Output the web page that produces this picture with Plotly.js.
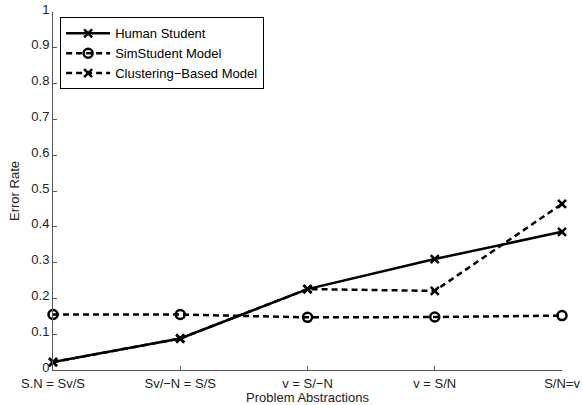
<!DOCTYPE html>
<html>
<head>
<meta charset="utf-8">
<script src="https://cdn.plot.ly/plotly-3.0.1.min.js"></script>
<style>html,body{margin:0;padding:0;background:#fff}#chart{width:582px;height:405px}</style>
</head>
<body>
<div id="chart"></div>
<script>
const categories = ["S.N = Sv/S", "Sv/\u2212N = S/S", "v = S/\u2212N", "v = S/N", "S/N=v"];
const humanStudent = [0.022, 0.088, 0.226, 0.310, 0.386];
const simStudent = [0.155, 0.155, 0.147, 0.148, 0.152];
const clusteringModel = [0.022, 0.088, 0.226, 0.221, 0.464];
const yTicks = [0, 0.1, 0.2, 0.3, 0.4, 0.5, 0.6, 0.7, 0.8, 0.9, 1];
const yTickText = ["0", "0.1", "0.2", "0.3", "0.4", "0.5", "0.6", "0.7", "0.8", "0.9", "1"];

const FONT = "Liberation Sans, Arial, Helvetica, sans-serif";
const dash = "6px,4px";

const traces = [
  {
    x: categories, y: humanStudent, name: "Human Student", type: "scatter", mode: "lines+markers",
    line: {color: "#000", width: 2.5},
    marker: {symbol: "x-thin-open", size: 8, color: "#000", line: {color: "#000", width: 2.5}},
    cliponaxis: false
  },
  {
    x: categories, y: simStudent, name: "SimStudent Model", type: "scatter", mode: "lines+markers",
    line: {color: "#000", width: 2.5, dash: dash},
    marker: {symbol: "circle-open", size: 9, color: "#000", line: {color: "#000", width: 2.5}},
    cliponaxis: false
  },
  {
    x: categories, y: clusteringModel, name: "Clustering\u2212Based Model", type: "scatter", mode: "lines+markers",
    line: {color: "#000", width: 2.5, dash: dash},
    marker: {symbol: "x-thin-open", size: 8, color: "#000", line: {color: "#000", width: 2.5}},
    cliponaxis: false
  }
];

const layout = {
  width: 582, height: 405,
  margin: {l: 53, r: 20, t: 12, b: 35},
  paper_bgcolor: "#fff", plot_bgcolor: "#fff",
  font: {family: FONT, size: 13, color: "#222"},
  showlegend: true,
  legend: {
    x: 0.014, y: 0.985, xanchor: "left", yanchor: "top",
    bordercolor: "#000", borderwidth: 1, bgcolor: "#fff",
    font: {family: FONT, size: 13, color: "#000"},
    traceorder: "normal", itemwidth: 44
  },
  xaxis: {
    type: "category", range: [0, 4],
    showline: true, linecolor: "#555", linewidth: 1,
    ticks: "inside", ticklen: 4, tickcolor: "#555",
    showgrid: false, zeroline: false, ticklabelstandoff: 1,
    tickfont: {family: FONT, size: 13, color: "#222"},
    title: {text: "Problem Abstractions", font: {family: FONT, size: 13, color: "#222"}, standoff: 3}
  },
  yaxis: {
    range: [0, 1], tickvals: yTicks, ticktext: yTickText,
    showline: true, linecolor: "#555", linewidth: 1,
    ticks: "inside", ticklen: 4, tickcolor: "#555",
    showgrid: false, zeroline: false, ticklabelshift: -3,
    tickfont: {family: FONT, size: 13, color: "#222"},
    title: {text: "Error Rate", font: {family: FONT, size: 13, color: "#222"}, standoff: 8}
  }
};

Plotly.newPlot("chart", traces, layout, {displayModeBar: false, staticPlot: true});
</script>
</body>
</html>
